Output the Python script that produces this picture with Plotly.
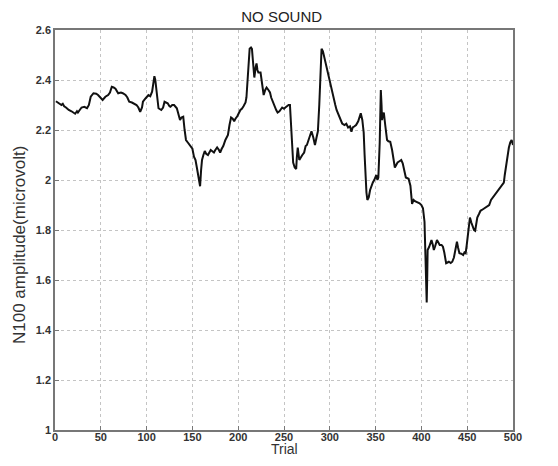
import plotly.graph_objects as go

trials = [1, 3, 5, 7, 8.5, 10, 12, 15, 18, 20, 22, 24, 25, 27, 29, 32, 35, 37, 39, 42, 45, 47, 50,
          52, 55, 58, 60, 62, 64, 66, 69, 72, 74, 77, 79, 81, 84, 86, 89, 91, 93, 95, 96, 99,
          102, 104, 106, 107.5, 108.5, 109.5, 110.5, 112, 113, 116, 118, 119.6, 121, 123, 125,
          126, 128, 130, 133, 135, 136.5, 138, 140, 141.5, 143, 145, 148, 150, 151.7, 153.4,
          155, 156.8, 158.4, 159.5, 160.5, 162, 163.5, 165, 167, 170, 172, 173.5, 175, 177,
          179, 180.3, 182, 183.7, 186, 188.8, 190.5, 192.2, 194, 195.6, 197, 199, 202.4, 204,
          205.8, 208, 209, 210, 210.8, 211.7, 212.5, 214, 215, 216, 217.6, 219, 220, 221, 222,
          224.4, 226, 227.8, 229.5, 231, 233, 234.7, 236, 238, 240, 241.5, 243, 245, 248, 250,
          251.5, 253, 255, 256.5, 258, 259, 260, 261.7, 263.3, 264, 265, 266.7, 268, 270, 272,
          273.6, 275, 277, 278.5, 280, 282, 283.8, 285.5, 287, 288.5, 289.8, 291, 292.5, 294,
          296, 297.5, 299, 300.5, 302.4, 304, 306, 307.4, 309, 311, 313.5, 316, 318, 320, 322, 323.6,
          325, 327, 328.7, 331, 333.8, 335.5, 337, 338, 338.9, 340, 341, 342.5, 344, 345.6,
          347, 348.5, 350.7, 352, 353, 354.5, 355.7, 356.5, 357, 358, 359, 360.5, 362.5, 364,
          366, 368, 369.5, 371, 372.5, 374, 376, 378, 379.6, 381, 383, 386, 388, 389.8, 391.5,
          393, 395, 398, 400, 401.7, 403.4, 404.4, 405.2, 405.8, 406.4, 406.8, 408.5, 410,
          411, 412.5, 413.6, 415, 417, 418.5, 420, 422, 423.5, 425, 427, 428.5, 430, 432,
          433.7, 435.5, 437, 438.8, 440, 441.5, 443.5, 445.6, 447, 448.3, 449.5, 451, 452,
          453, 454.5, 456, 457.5, 458.7, 460, 461, 463, 464.5, 466, 468, 470, 472, 474, 476,
          478, 480, 482, 484, 486, 488, 490, 491, 492.5, 494, 495.5, 497, 498.5, 500]

amplitude = [2.315, 2.31, 2.305, 2.30, 2.305, 2.295, 2.29, 2.28, 2.275, 2.27, 2.265, 2.275, 2.27,
             2.28, 2.29, 2.293, 2.287, 2.30, 2.333, 2.347, 2.345, 2.34, 2.33,
             2.32, 2.333, 2.34, 2.35, 2.373, 2.37, 2.365, 2.347, 2.35, 2.347, 2.34, 2.33, 2.313,
             2.31, 2.305, 2.30, 2.29, 2.273, 2.29, 2.313, 2.327,
             2.34, 2.335, 2.353, 2.39, 2.415, 2.40, 2.37, 2.31, 2.287, 2.28, 2.29, 2.313, 2.31,
             2.307, 2.295, 2.293, 2.30, 2.30, 2.287, 2.26, 2.24, 2.25, 2.253, 2.20, 2.16, 2.15,
             2.133, 2.125, 2.093, 2.08, 2.047, 2.01, 1.975, 2.04, 2.08, 2.10, 2.116, 2.105, 2.10,
             2.12, 2.115, 2.11, 2.12, 2.13, 2.12, 2.11, 2.125, 2.136, 2.16, 2.18, 2.22, 2.25,
             2.245, 2.235, 2.245, 2.255, 2.28, 2.285, 2.295, 2.31, 2.33, 2.40, 2.46, 2.51,
             2.525, 2.53, 2.525, 2.48, 2.41, 2.45, 2.466, 2.44, 2.43, 2.43, 2.39, 2.34, 2.36,
             2.37, 2.36, 2.35, 2.33, 2.31, 2.29, 2.28, 2.27, 2.275, 2.29, 2.285, 2.29, 2.295,
             2.30, 2.30, 2.21, 2.12, 2.07, 2.05, 2.044, 2.09, 2.13, 2.08, 2.09, 2.10, 2.11,
             2.136, 2.14, 2.16, 2.18, 2.195, 2.17, 2.14, 2.17, 2.195, 2.30, 2.46, 2.525, 2.515,
             2.49, 2.46, 2.44, 2.41, 2.38, 2.35, 2.33, 2.30, 2.28, 2.265, 2.25, 2.226, 2.22, 2.225,
             2.21, 2.215, 2.193, 2.21, 2.215, 2.22, 2.235, 2.267, 2.24, 2.19, 2.10, 2.01, 1.95,
             1.92, 1.93, 1.96, 1.98, 1.99, 2.00, 2.02, 2.00, 2.01, 2.15, 2.36, 2.30, 2.24, 2.26,
             2.27, 2.22, 2.16, 2.155, 2.153, 2.12, 2.08, 2.05, 2.06, 2.07, 2.075, 2.08, 2.067,
             2.04, 2.01, 2.005, 1.977, 1.904, 1.92, 1.915, 1.913, 1.907, 1.90, 1.887, 1.833,
             1.66, 1.58, 1.51, 1.62, 1.72, 1.733, 1.745, 1.76, 1.74, 1.72, 1.735, 1.76, 1.75,
             1.74, 1.74, 1.733, 1.71, 1.667, 1.67, 1.673, 1.668, 1.673, 1.69, 1.72, 1.753, 1.73,
             1.707, 1.705, 1.70, 1.71, 1.707, 1.74, 1.784, 1.82, 1.85, 1.83, 1.81, 1.80, 1.797,
             1.83, 1.85, 1.865, 1.877, 1.88, 1.885, 1.89, 1.895, 1.90, 1.92, 1.93, 1.94, 1.95,
             1.96, 1.97, 1.98, 1.99, 2.02, 2.06, 2.10, 2.13, 2.15, 2.16, 2.14]

x_ticks = [0, 50, 100, 150, 200, 250, 300, 350, 400, 450, 500]
y_ticks = [1, 1.2, 1.4, 1.6, 1.8, 2, 2.2, 2.4, 2.6]
y_tick_labels = ["1", "1.2", "1.4", "1.6", "1.8", "2", "2.2", "2.4", "2.6"]
x_title = "Trial"
y_title = "N100 amplitude(microvolt)"
chart_title = "NO SOUND"

# page body adds an 8px offset; figure sized so the plot box lands where the reference has it
FIG_W, FIG_H = 542, 450
M_L, M_R, M_T, M_B = 47, 37, 22, 28
plot_w = FIG_W - M_L - M_R
plot_h = FIG_H - M_T - M_B

fig = go.Figure()
fig.add_trace(go.Scatter(x=trials, y=amplitude, mode="lines",
                         line=dict(color="#111111", width=2), showlegend=False))

axis_common = dict(showgrid=True, gridcolor="#c4c4c4", griddash="dot", gridwidth=1,
                   showline=True, linecolor="#777777", linewidth=1.5, mirror=True,
                   ticks="inside", ticklen=4, tickcolor="#777777", zeroline=False,
                   automargin=False,
                   tickfont=dict(family="Liberation Sans, Arial", size=11, color="#333333",
                                 weight="bold"))

fig.update_xaxes(range=[0, 500], tickvals=x_ticks, ticklabelstandoff=-4, **axis_common)
fig.update_yaxes(range=[1, 2.6], tickvals=y_ticks, ticktext=y_tick_labels, **axis_common)

fig.add_annotation(text=x_title, xref="paper", yref="paper", x=0.5, y=-M_B / plot_h,
                   xanchor="center", yanchor="bottom", showarrow=False,
                   borderpad=0,
                   font=dict(family="Liberation Sans, Arial", size=14, color="#333333"))
fig.add_annotation(text=y_title, xref="paper", yref="paper", x=-36 / plot_w, y=0.4625,
                   xanchor="center", yanchor="middle", showarrow=False, textangle=-90,
                   font=dict(family="Liberation Sans, Arial", size=17, color="#333333"))

fig.update_layout(
    width=FIG_W, height=FIG_H,
    margin=dict(l=M_L, r=M_R, t=M_T, b=M_B, autoexpand=False),
    paper_bgcolor="white", plot_bgcolor="white",
    title=dict(text=chart_title, x=0.495, xanchor="center", xref="paper",
               y=1 - 3 / FIG_H, yref="container", yanchor="top", automargin=False,
               font=dict(family="Liberation Sans, Arial", size=15, color="#222222")),
)

fig.write_html("out.html")
